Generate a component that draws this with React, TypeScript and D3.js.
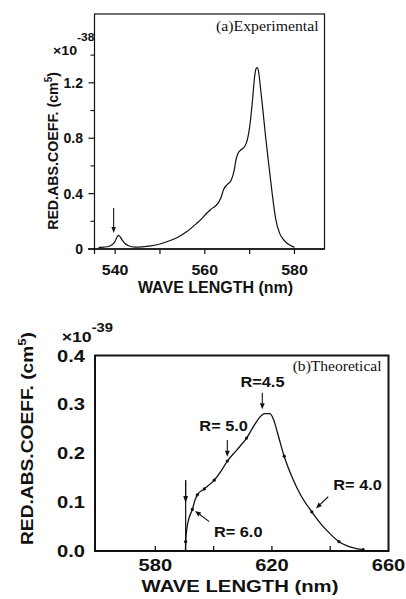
import React from 'react';
import * as d3 from 'd3';

// (a) experimental spectrum
const expWl = [536.3, 537.5, 538.5, 539.3, 539.9, 540.4, 540.7, 541.0, 541.5, 542.2, 543.0, 544.4, 546.0, 548.0, 550.0, 552.0, 554.0, 556.0, 558.0, 559.5, 560.4, 561.5, 563.0, 563.6, 564.2, 565.0, 565.9, 566.5, 567.0, 567.4, 568.2, 568.9, 569.5, 570.0, 570.6, 571.1, 571.4, 571.7, 572.0, 572.4, 573.0, 573.6, 574.2, 575.0, 575.8, 576.7, 577.5, 578.5, 580.0];
const expVal = [0.012, 0.014, 0.018, 0.030, 0.050, 0.085, 0.099, 0.093, 0.068, 0.040, 0.024, 0.014, 0.016, 0.023, 0.036, 0.058, 0.085, 0.126, 0.180, 0.225, 0.258, 0.290, 0.333, 0.370, 0.430, 0.465, 0.498, 0.560, 0.650, 0.690, 0.720, 0.740, 0.790, 0.880, 1.060, 1.240, 1.300, 1.310, 1.280, 1.170, 0.990, 0.800, 0.630, 0.410, 0.220, 0.113, 0.070, 0.038, 0.012];

// (b) theoretical spectrum; dot = computed point marker
const thWl = [590.35, 590.4, 590.8, 591.6, 592.7, 593.5, 594.4, 596.8, 600.2, 602.5, 604.7, 608.0, 611.3, 614.0, 616.2, 617.5, 619.3, 620.5, 622.0, 624.2, 627.0, 630.0, 633.7, 637.0, 640.0, 643.0, 646.0, 649.0, 651.3];
const thVal = [0.0, 0.019, 0.045, 0.068, 0.085, 0.102, 0.115, 0.127, 0.145, 0.163, 0.184, 0.207, 0.231, 0.258, 0.276, 0.281, 0.281, 0.270, 0.240, 0.194, 0.150, 0.113, 0.080, 0.054, 0.035, 0.019, 0.010, 0.005, 0.003];
const thDot = [0, 1, 0, 0, 1, 0, 1, 1, 1, 0, 1, 0, 1, 0, 0, 0, 0, 0, 0, 1, 0, 0, 1, 0, 0, 1, 0, 0, 1];

const aTicksMajor = [0, 0.4, 0.8, 1.2];
const aTicksMinor = [0.2, 0.6, 1.0, 1.4];
const aTickLabels = ['0', '0.4', '0.8', '1.2'];
const aXTicks = [540, 550, 560, 570, 580];
const aXLabels = [540, 560, 580];

const bYTicks = [0, 0.1, 0.2, 0.3, 0.4];
const bYLabels = ['0.0', '0.1', '0.2', '0.3', '0.4'];
const bXTicks = [580, 600, 620, 640];
const bXLabels = [580, 620, 660];

// annotations in data units
const rLabels = ['R=4.5', 'R= 5.0', 'R= 4.0', 'R= 6.0'];
const rTextWl = [609.2, 595.1, 641.05, 600.1];
const rTextVal = [0.336, 0.2455, 0.1248, 0.028];
const rTail = [[616.7, 0.324], [604.7, 0.227], [639.3, 0.111], [598.5, 0.060]];
const rTip = [[616.7, 0.290], [604.7, 0.193], [635.1, 0.087], [593.6, 0.082]];

const SANS = '"Liberation Sans", Arial, sans-serif';
const SERIF = '"Liberation Serif", "Times New Roman", serif';

const xA = d3.scaleLinear().domain([535.4, 586.7]).range([94.5, 324.5]);
const yA = d3.scaleLinear().domain([0, 1.697]).range([249, 14]);
const xB = d3.scaleLinear().domain([559.3, 660]).range([95, 388.5]);
const yB = d3.scaleLinear().domain([0, 0.4]).range([551, 355.5]);

const arrow = (x1: number, y1: number, x2: number, y2: number, len = 6, w = 2.4) => {
  const a = Math.atan2(y2 - y1, x2 - x1);
  const bx = x2 - len * Math.cos(a), by = y2 - len * Math.sin(a);
  const px = -Math.sin(a) * w, py = Math.cos(a) * w;
  return {
    line: `M${x1},${y1}L${bx},${by}`,
    head: `M${x2},${y2}L${bx + px},${by + py}L${bx - px},${by - py}Z`,
  };
};

const Label = ({ x, y, sx = 1, size, anchor = 'start', family = SANS, weight = 'bold', rotate = 0, children }: any) => (
  <text
    transform={`translate(${x},${y}) rotate(${rotate}) scale(${sx},1)`}
    fontFamily={family}
    fontWeight={weight}
    fontSize={size}
    textAnchor={anchor}
    fill="#111"
  >
    {children}
  </text>
);

const Arrow = ({ a }: any) => (
  <g>
    <path d={a.line} stroke="#111" strokeWidth={1.1} fill="none" />
    <path d={a.head} fill="#111" />
  </g>
);

export default function App() {
  const lineA = d3.line<number>().x((d) => xA(d)).y((_, i) => yA(expVal[i])).curve(d3.curveMonotoneX);
  const lineB = d3.line<number>().x((d) => xB(d)).y((_, i) => yB(thVal[i])).curve(d3.curveMonotoneX);

  const topArrow = arrow(xA(539.67), yA(0.296), xA(539.67), yA(0.1155), 6, 2.2);
  const thrX = xB(590.4);
  const thrArrow = arrow(thrX, yB(0.145), thrX, yB(0.098), 7, 2.4);

  return (
    <svg width={406} height={599} style={{ position: 'absolute', left: 0, top: 0, background: '#fff' }}>
      <rect width={406} height={599} fill="#fff" />

      {/* ---------- (a) Experimental ---------- */}
      <rect x={xA.range()[0]} y={yA.range()[1]} width={xA.range()[1] - xA.range()[0]} height={yA.range()[0] - yA.range()[1]} fill="none" stroke="#111" strokeWidth={1.2} />
      <line x1={88} x2={xA.range()[1]} y1={yA(0)} y2={yA(0)} stroke="#111" strokeWidth={1.6} />
      {aTicksMajor.map((t) => (
        <line key={'am' + t} x1={xA.range()[0] - 6} x2={xA.range()[0]} y1={yA(t)} y2={yA(t)} stroke="#111" strokeWidth={1.2} />
      ))}
      {aTicksMinor.map((t) => (
        <line key={'an' + t} x1={xA.range()[0] - 4} x2={xA.range()[0]} y1={yA(t)} y2={yA(t)} stroke="#111" strokeWidth={1.1} />
      ))}
      {aTicksMajor.map((t, i) => (
        <Label key={'al' + t} x={83} y={yA(t) + 5} size={14} anchor="end">{aTickLabels[i]}</Label>
      ))}
      {aXTicks.map((t) => (
        <line key={'ax' + t} x1={xA(t)} x2={xA(t)} y1={yA(0)} y2={yA(0) + 5} stroke="#111" strokeWidth={1.2} />
      ))}
      <line x1={xA.range()[0]} x2={xA.range()[0]} y1={yA(0)} y2={yA(0) + 5} stroke="#111" strokeWidth={1.2} />
      {aXLabels.map((t) => (
        <Label key={'axl' + t} x={xA(t)} y={275} size={14} sx={1.14} anchor="middle">{t}</Label>
      ))}
      <Label x={215.5} y={293} size={16} anchor="middle">WAVE LENGTH (nm)</Label>
      <Label x={57.5} y={151} size={14.5} sx={0.98} anchor="middle" rotate={-90}>
        RED.ABS.COEFF. (cm<tspan fontSize={10} dy={-6}>5</tspan><tspan dy={6}>)</tspan>
      </Label>
      <Label x={53} y={54.5} size={13} sx={1.09}>
        ×10<tspan fontSize={11} dy={-13.5}>-38</tspan>
      </Label>
      <Label x={216} y={31} size={14} sx={1.13} family={SERIF} weight="normal">(a)Experimental</Label>
      <path d={lineA(expWl) || ''} fill="none" stroke="#111" strokeWidth={1.2} />
      <Arrow a={topArrow} />

      {/* ---------- (b) Theoretical ---------- */}
      <rect x={xB.range()[0]} y={yB.range()[1]} width={xB.range()[1] - xB.range()[0]} height={yB.range()[0] - yB.range()[1]} fill="none" stroke="#111" strokeWidth={2} />
      {bXTicks.map((t) => (
        <line key={'bx' + t} x1={xB(t)} x2={xB(t)} y1={yB(0)} y2={yB(0) - 5} stroke="#111" strokeWidth={1.3} />
      ))}
      {bYTicks.map((t, i) => (
        <Label key={'by' + t} x={85} y={yB(t) + 6} size={16.5} sx={1.22} anchor="end">{bYLabels[i]}</Label>
      ))}
      {bXLabels.map((t) => (
        <Label key={'bxl' + t} x={xB(t)} y={571} size={16.5} sx={1.22} anchor="middle">{t}</Label>
      ))}
      <Label x={240} y={592} size={16.5} sx={1.23} anchor="middle">WAVE LENGTH (nm)</Label>
      <Label x={33.3} y={438.5} size={16} sx={1.2} anchor="middle" rotate={-90}>
        RED.ABS.COEFF. (cm<tspan fontSize={11} dy={-7}>5</tspan><tspan dy={7}>)</tspan>
      </Label>
      <Label x={61.7} y={341.7} size={15} sx={1.18}>
        ×10<tspan fontSize={12.5} dy={-10}>-39</tspan>
      </Label>
      <Label x={292.7} y={371} size={14} sx={1.11} family={SERIF} weight="normal">(b)Theoretical</Label>

      <path d={lineB(thWl) || ''} fill="none" stroke="#111" strokeWidth={1.3} />
      {thWl.map((w, i) =>
        thDot[i] ? <circle key={'d' + i} cx={xB(w)} cy={yB(thVal[i])} r={1.6} fill="#111" /> : null
      )}
      <path d={`M${thrX},${yB(0.145)}L${thrX},${yB(0)}`} stroke="#111" strokeWidth={1.2} />
      <Arrow a={thrArrow} />
      {rLabels.map((l, i) => (
        <g key={'r' + i}>
          <Label x={xB(rTextWl[i])} y={yB(rTextVal[i])} size={15} sx={1.09}>{l}</Label>
          <Arrow a={arrow(xB(rTail[i][0]), yB(rTail[i][1]), xB(rTip[i][0]), yB(rTip[i][1]))} />
        </g>
      ))}
    </svg>
  );
}
